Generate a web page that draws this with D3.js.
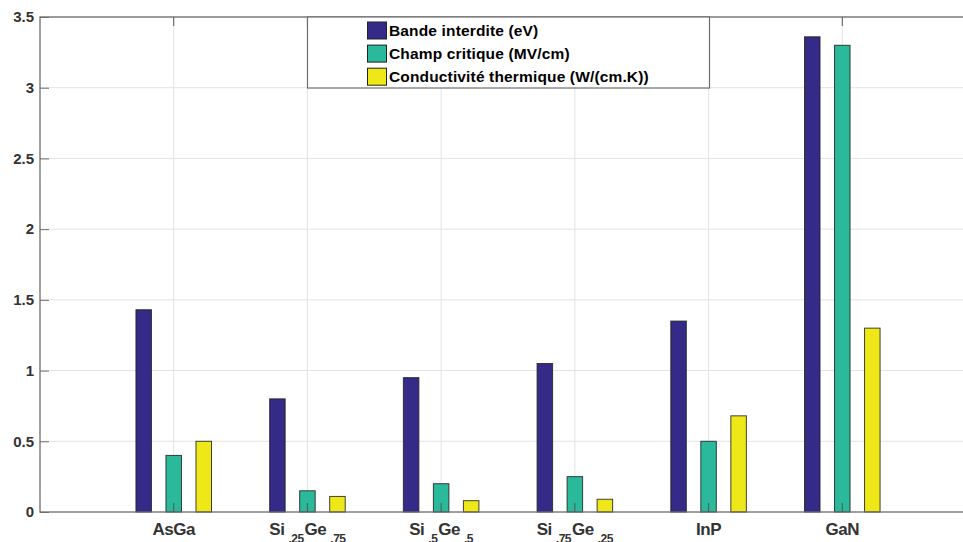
<!DOCTYPE html>
<html>
<head>
<meta charset="utf-8">
<script src="https://cdn.jsdelivr.net/npm/d3@7"></script>
<style>
  html, body { margin: 0; padding: 0; background: #fff; overflow: hidden; }
  svg { display: block; font-family: "Liberation Sans", Arial, Helvetica, sans-serif; }
</style>
</head>
<body>
<svg id="chart" width="963" height="542"></svg>
<script>
// ---- data ----
const categories = ["AsGa", "Si.25Ge.75", "Si.5Ge.5", "Si.75Ge.25", "InP", "GaN"];
// tick labels as [base, subscript] pieces
const tickLabels = [
  [["AsGa", ""]],
  [["Si", ".25"], ["Ge", ".75"]],
  [["Si", ".5"], ["Ge", ".5"]],
  [["Si", ".75"], ["Ge", ".25"]],
  [["InP", ""]],
  [["GaN", ""]]
];
const seriesNames = ["Bande interdite (eV)", "Champ critique (MV/cm)", "Conductivité thermique (W/(cm.K))"];
const bandeInterdite = [1.43, 0.80, 0.95, 1.05, 1.35, 3.36];
const champCritique = [0.40, 0.15, 0.20, 0.25, 0.50, 3.30];
const conductivite = [0.50, 0.11, 0.08, 0.09, 0.68, 1.30];
const seriesColors = ["#352a87", "#2bb99c", "#efe818"];
const yTicks = [0, 0.5, 1, 1.5, 2, 2.5, 3, 3.5];
const yTickLabels = ["0", "0.5", "1", "1.5", "2", "2.5", "3", "3.5"];

const series = [bandeInterdite, champCritique, conductivite];

// ---- layout ----
const svg = d3.select("#chart");
const pLeft = 40, pRight = 976, pTop = 17, pBottom = 512;
const x = d3.scaleLinear().domain([0, 7]).range([pLeft, pRight]);
const y = d3.scaleLinear().domain([0, 3.5]).range([pBottom, pTop]);
const offsets = [-0.2245, 0, 0.2245];
const barW = 0.116;

// grid
const grid = svg.append("g");
grid.selectAll("line.h").data(yTicks.slice(1)).join("line")
  .attr("x1", pLeft).attr("x2", pRight)
  .attr("y1", d => y(d)).attr("y2", d => y(d))
  .attr("stroke", "#e3e3e3").attr("stroke-width", 1);
grid.selectAll("line.v").data(categories.map((c, i) => i + 1)).join("line")
  .attr("x1", d => x(d)).attr("x2", d => x(d))
  .attr("y1", pTop).attr("y2", pBottom)
  .attr("stroke", "#e3e3e3").attr("stroke-width", 1);

// bars
series.forEach((vals, s) => {
  svg.append("g").selectAll("rect").data(vals).join("rect")
    .attr("x", (d, i) => x(i + 1 + offsets[s] - barW / 2))
    .attr("width", x(barW) - x(0))
    .attr("y", d => y(d))
    .attr("height", d => y(0) - y(d))
    .attr("fill", seriesColors[s])
    .attr("stroke", "#222")
    .attr("stroke-opacity", 0.85)
    .attr("stroke-width", 1);
});

// axes box
const axisColor = "#6e6e6e";
svg.append("rect").attr("x", pLeft).attr("y", pTop)
  .attr("width", pRight - pLeft).attr("height", pBottom - pTop)
  .attr("fill", "none").attr("stroke", axisColor).attr("stroke-width", 1.3);

// y ticks (inward) + labels
const yAxis = d3.axisLeft(y).tickValues(yTicks).tickSize(-9).tickPadding(6)
  .tickFormat((d, i) => yTickLabels[i]);
const gy = svg.append("g").attr("transform", `translate(${pLeft},0)`).call(yAxis);
gy.select(".domain").remove();
gy.selectAll(".tick line").attr("stroke", axisColor).attr("stroke-width", 1);
gy.selectAll(".tick text")
  .attr("font-size", 15).attr("font-weight", "bold").attr("fill", "#333")
  .attr("font-family", "'Liberation Sans', Arial, sans-serif");

// x ticks (inward from bottom and top)
const xt = categories.map((c, i) => i + 1);
svg.append("g").selectAll("line").data(xt).join("line")
  .attr("x1", d => x(d)).attr("x2", d => x(d))
  .attr("y1", pBottom).attr("y2", pBottom - 9)
  .attr("stroke", "#555").attr("stroke-width", 1);
svg.append("g").selectAll("line").data(xt).join("line")
  .attr("x1", d => x(d)).attr("x2", d => x(d))
  .attr("y1", pTop).attr("y2", pTop + 9)
  .attr("stroke", "#555").attr("stroke-width", 1);

// x tick labels with subscripts
const xl = svg.append("g");
tickLabels.forEach((parts, i) => {
  const t = xl.append("text")
    .attr("x", x(i + 1)).attr("y", 535)
    .attr("text-anchor", "middle")
    .attr("letter-spacing", -0.5)
    .attr("font-size", 17).attr("font-weight", "bold").attr("fill", "#333");
  parts.forEach(([base, sub], k) => {
    t.append("tspan").text(base).attr("dx", k === 0 ? 0 : 1).attr("dy", k === 0 ? 0 : -8);
    if (sub) {
      t.append("tspan").text(sub).attr("font-size", 12).attr("dx", 4).attr("dy", 8);
    }
  });
});

// legend
const lg = svg.append("g");
lg.append("rect").attr("x", 307.5).attr("y", 17).attr("width", 402).attr("height", 71)
  .attr("fill", "#fff").attr("stroke", axisColor).attr("stroke-width", 1.2);
seriesNames.forEach((name, i) => {
  const cy = 30.5 + i * 23.1;
  lg.append("rect").attr("x", 367.5).attr("y", cy - 8.5).attr("width", 19).attr("height", 17)
    .attr("fill", seriesColors[i]).attr("stroke", "#222").attr("stroke-width", 1);
  lg.append("text").attr("x", 389).attr("y", cy + 5.5)
    .attr("font-size", 15.5).attr("letter-spacing", 0.15)
    .attr("font-weight", "bold").attr("fill", "#000")
    .text(name);
});
</script>
</body>
</html>
